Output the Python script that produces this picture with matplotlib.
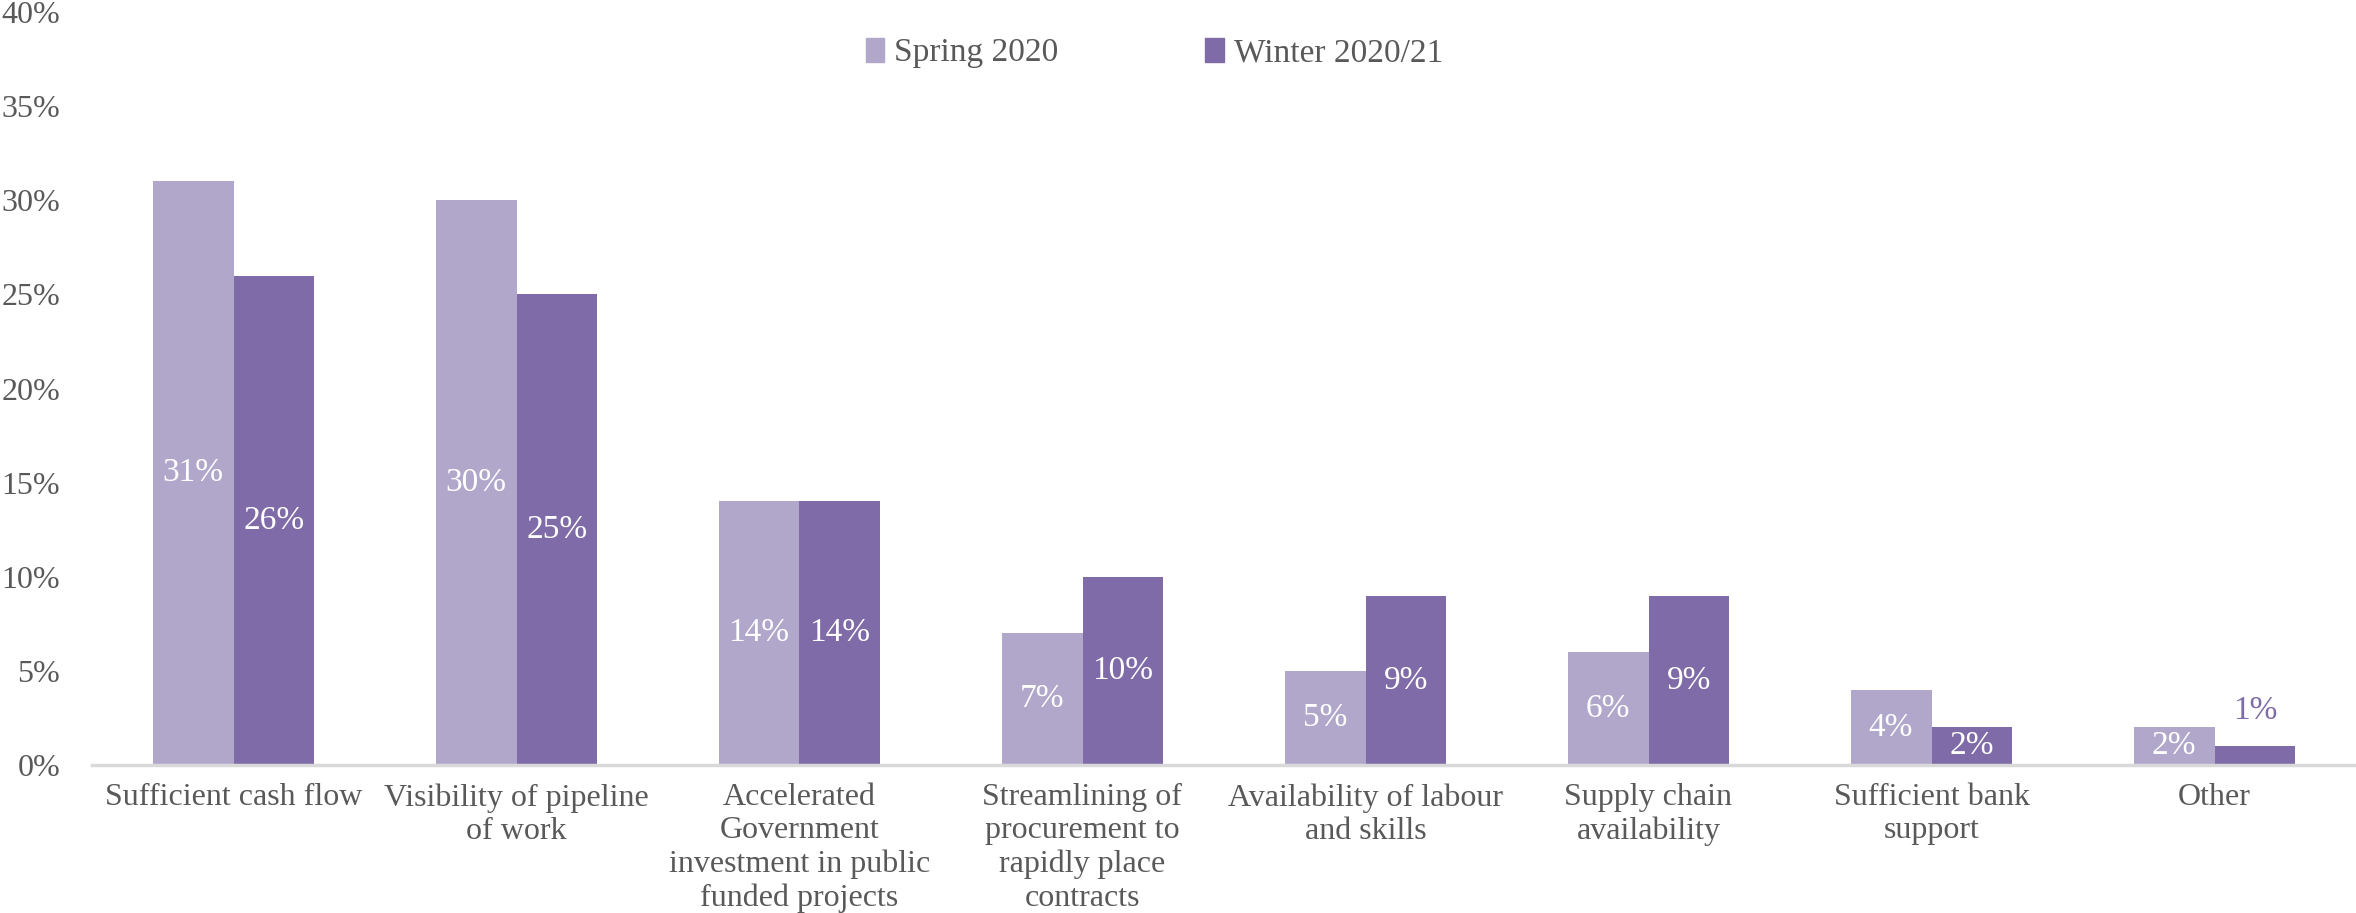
import numpy as np
import matplotlib
matplotlib.use("Agg")
from matplotlib import pyplot as plt
from matplotlib.patches import Patch

categories = [
    "Sufficient cash flow",
    "Visibility of pipeline\nof work",
    "Accelerated\nGovernment\ninvestment in public\nfunded projects",
    "Streamlining of\nprocurement to\nrapidly place\ncontracts",
    "Availability of labour\nand skills",
    "Supply chain\navailability",
    "Sufficient bank\nsupport",
    "Other",
]
spring_2020 = [31, 30, 14, 7, 5, 6, 4, 2]
winter_2021 = [26, 25, 14, 10, 9, 9, 2, 1]
series_names = ["Spring 2020", "Winter 2020/21"]

light = "#B1A7CB"
dark = "#7F6BA7"
grey = "#595959"

plt.rcParams['font.family'] = ['Liberation Serif', 'DejaVu Serif']

fig = plt.figure(figsize=(23.56, 9.13), dpi=100)
ax = fig.add_axes([92 / 2356, 1 - 765 / 913, 1 - 92 / 2356, (765 - 12) / 913])

x = np.arange(len(categories))
w = 0.286
b1 = ax.bar(x - w / 2, spring_2020, w, color=light)
b2 = ax.bar(x + w / 2, winter_2021, w, color=dark)

# value labels: white inside the bar, or purple above it when the bar is too short
for bars, vals in ((b1, spring_2020), (b2, winter_2021)):
    for rect, v in zip(bars, vals):
        cx = rect.get_x() + rect.get_width() / 2
        if v >= 2:
            ax.text(cx, v / 2, f"{v}%", ha="center", va="center",
                    color="white", fontsize=24)
        else:
            ax.text(cx, v + 1.9, f"{v}%", ha="center", va="center",
                    color=dark, fontsize=24)

ax.set_xlim(-0.5, len(categories) - 0.5)
ax.set_ylim(0, 40)
ax.set_yticks(range(0, 41, 5))
ax.set_yticklabels([f"{t}%" for t in range(0, 41, 5)])
ax.set_xticks(x)
ax.set_xticklabels(categories, linespacing=1.2)
ax.tick_params(axis="both", length=0, colors=grey, labelsize=23)
ax.tick_params(axis="x", pad=13)
ax.tick_params(axis="y", pad=23)

for s in ("top", "right", "left"):
    ax.spines[s].set_visible(False)
ax.spines["bottom"].set_color("#D9D9D9")
ax.spines["bottom"].set_linewidth(2.5)

handles = [Patch(color=light), Patch(color=dark)]
fig.legend(handles, series_names, loc="center", bbox_to_anchor=(0.490, 1 - 53 / 913),
           ncol=2, frameon=False, fontsize=24, labelcolor=grey,
           handlelength=0.55, handleheight=0.75, handletextpad=0.3, columnspacing=4.4)

fig.savefig("out.png", dpi=100)
